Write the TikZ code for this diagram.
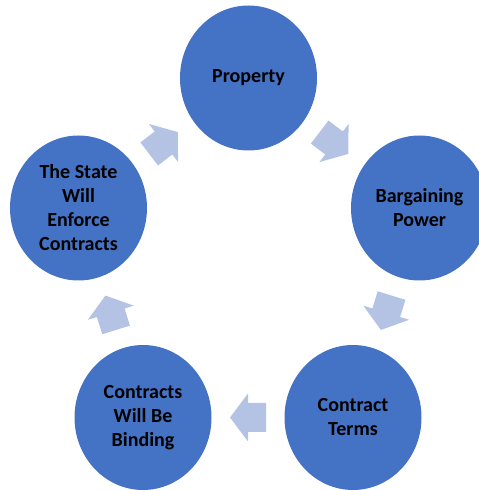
\documentclass[tikz,border=0pt]{standalone}
\usepackage{fontspec}
\setmainfont{Carlito}
\usetikzlibrary{shapes.geometric,calc}
\definecolor{circblue}{HTML}{4472C4}
\definecolor{arrblue}{HTML}{B4C3E4}
\tikzset{
  stage/.style={ellipse, fill=circblue, draw=none, minimum width=137pt, minimum height=145pt,
    inner sep=0pt, align=center, text=black, font=\bfseries\fontsize{20}{24}\selectfont},
  blockarrow/.pic={\fill[arrblue] (-18,-14.5) -- (0,-14.5) -- (0,-24) -- (18,0) -- (0,24) -- (0,14.5) -- (-18,14.5) -- cycle;}
}
\begin{document}
\begin{tikzpicture}[x=1pt,y=1pt]
\useasboundingbox (0,0) rectangle (479,490);
\clip (0,0) rectangle (479,490);
\node[stage] (p) at (248.5,412) {Property};
\node[stage] (b) at (419.5,282) {Bargaining\\Power};
\node[stage] (t) at (353,72.5) {Contract\\Terms};
\node[stage] (bd) at (143,72.5) {Contracts\\Will Be\\Binding};
\node[stage] (s) at (78.5,282) {The State\\Will\\Enforce\\Contracts};
\path ($(p)!0.5!(b)$) pic[rotate=-37.4] {blockarrow};
\path ($(b)!0.5!(t)$) pic[rotate=-107.2] {blockarrow};
\path ($(t)!0.5!(bd)$) pic[rotate=180] {blockarrow};
\path ($(bd)!0.5!(s)$) pic[rotate=107.2] {blockarrow};
\path ($(s)!0.5!(p)$) pic[rotate=37.4] {blockarrow};
\end{tikzpicture}
\end{document}
